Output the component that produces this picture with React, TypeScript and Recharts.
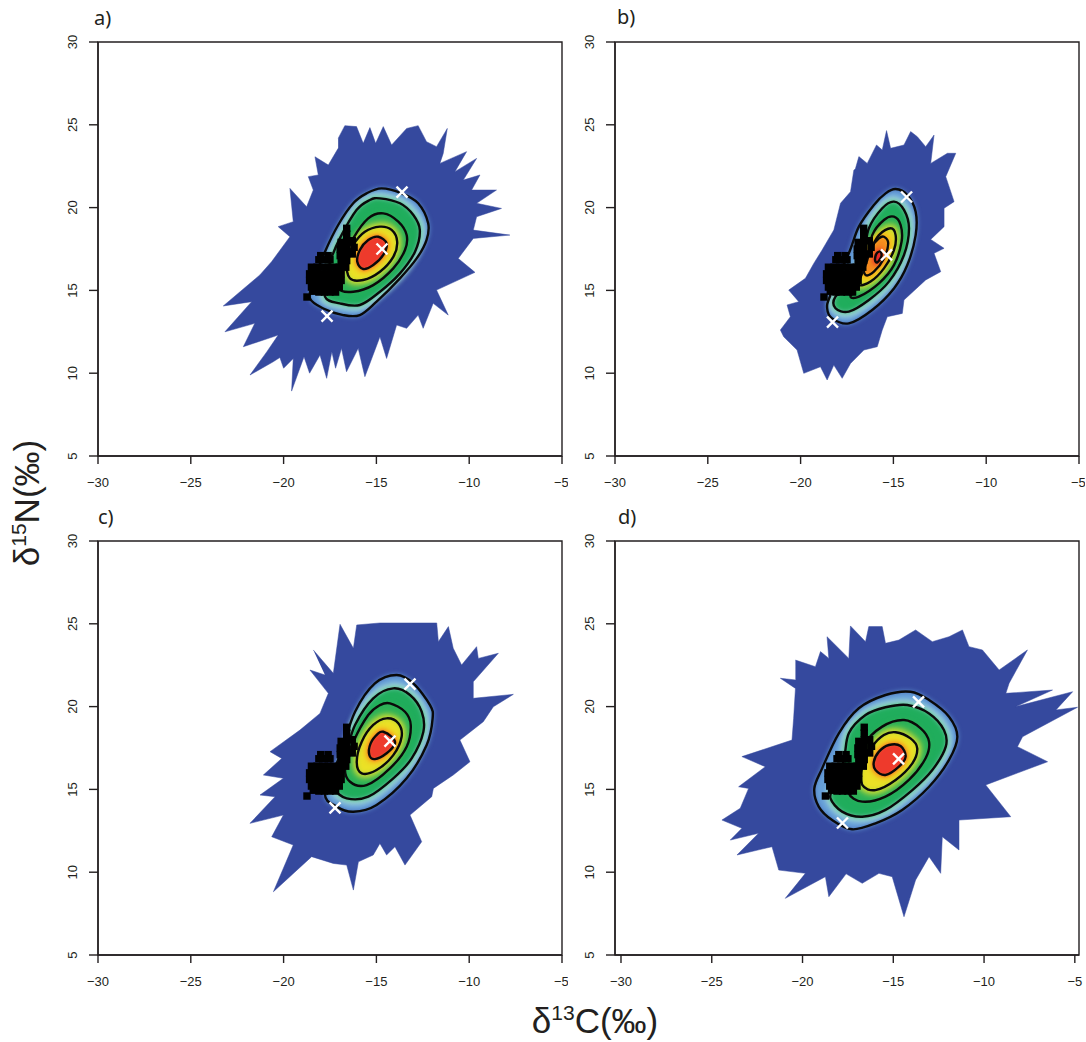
import { ScatterChart, Scatter, XAxis, YAxis, ReferenceArea } from "recharts";

type Pair = [number, number];

const X_TICKS = [-30, -25, -20, -15, -10, -5];
const Y_TICKS = [5, 10, 15, 20, 25, 30];

const BLUE = "#35499e";
const INK = "#231f20";
const FILLS_A = ["#669fd8", "#20ad5c", "#2fb257", "#ebe126", "#ee3a2c"];
const HALOS_A = ["", "#a6dcd8", "", "#9fd03f", "#f8a01c"];
const FILLS_B = ["#669fd8", "#20ad5c", "#2fb257", "#dfdd28", "#f58a1f", "#e8262a"];
const HALOS_B = ["", "#a6dcd8", "", "#9ccf3e", "#f9c31b", "#ee4b24"];

// 食物源 (same in every panel)
const sources: Pair[] = [
  [-18.74, 14.6],
  [-18.5, 16.4], [-18.2, 16.4], [-17.9, 16.4], [-17.6, 16.4], [-17.3, 16.4], [-17.0, 16.4],
  [-18.6, 16.0], [-18.3, 16.0], [-18.0, 16.0], [-17.7, 16.0], [-17.4, 16.0], [-17.1, 16.0], [-16.9, 16.0],
  [-18.6, 15.6], [-18.3, 15.6], [-18.0, 15.6], [-17.7, 15.6], [-17.4, 15.6], [-17.1, 15.6], [-16.9, 15.6],
  [-18.5, 15.2], [-18.2, 15.2], [-17.9, 15.2], [-17.6, 15.2], [-17.3, 15.2], [-17.0, 15.2],
  [-18.1, 16.85], [-17.8, 16.85], [-17.5, 16.85], [-18.0, 17.1], [-17.6, 17.1],
  [-18.4, 14.95], [-18.1, 14.9], [-17.8, 14.9], [-17.5, 14.9], [-17.2, 14.9],
  [-16.6, 18.75], [-16.6, 18.4], [-16.6, 18.0], [-16.6, 17.6], [-16.6, 17.2], [-16.6, 16.8], [-16.65, 16.4],
  [-16.3, 18.0], [-16.2, 17.6], [-16.3, 17.2], [-16.9, 17.9], [-16.95, 17.5], [-16.95, 17.1], [-16.9, 16.7],
];

const outlineA: Pair[] = [
  [-17.06, 24.18], [-16.7, 24.95], [-16.07, 24.89], [-15.71, 23.88], [-15.35, 24.83], [-15.04, 23.88], [-14.63, 24.89],
  [-14.18, 23.78], [-13.37, 24.78], [-12.75, 24.95], [-12.3, 23.98], [-11.76, 23.68], [-11.18, 24.78], [-11.4, 23.27],
  [-11.58, 22.67], [-10.14, 23.38], [-10.77, 22.17], [-9.6, 22.97], [-10.32, 21.66], [-9.42, 21.97], [-9.87, 21.06],
  [-8.53, 21.06], [-9.6, 20.26], [-8.26, 19.95], [-9.6, 19.45], [-9.78, 18.64], [-7.81, 18.34], [-9.78, 18.14],
  [-10.59, 16.93], [-9.69, 16.09], [-11.76, 15.02], [-11.13, 13.51], [-11.94, 14.22], [-12.48, 12.71], [-12.75, 13.51],
  [-13.37, 12.71], [-13.91, 12.91], [-14.45, 10.89], [-14.81, 12.2], [-15.62, 9.79], [-15.98, 11.5], [-16.61, 10.09],
  [-16.88, 11.5], [-17.2, 10.3], [-17.4, 11.3], [-17.68, 9.69], [-18.04, 11.1], [-18.6, 10.0], [-18.9, 11.0], [-19.57, 8.92],
  [-19.48, 10.89], [-20.0, 10.3], [-20.2, 10.95], [-20.56, 10.69], [-21.81, 9.89], [-20.9, 11.3], [-20.29, 12.3], [-22.17, 11.6],
  [-21.55, 13.01], [-23.16, 12.5], [-21.72, 14.32], [-23.25, 14.06], [-21.28, 15.93], [-20.65, 16.73], [-19.66, 18.24],
  [-20.29, 18.85], [-19.48, 19.15], [-19.66, 21.16], [-18.76, 20.05], [-18.4, 21.06], [-18.67, 21.87], [-18.13, 21.97],
  [-18.31, 23.07], [-17.59, 22.57], [-17.06, 23.58],
];
const contoursA: Pair[][] = [
  [[-14.72, 21.16], [-13.64, 20.86], [-12.75, 20.26], [-12.21, 19.05], [-12.3, 18.04], [-12.83, 16.93], [-13.73, 15.73], [-14.99, 14.32], [-15.89, 13.51], [-16.79, 13.51], [-17.86, 13.91], [-18.58, 14.52], [-18.4, 15.52], [-17.77, 17.34], [-17.06, 18.95], [-16.25, 20.26], [-15.53, 20.86]],
  [[-14.81, 20.56], [-13.73, 20.26], [-13.01, 19.55], [-12.66, 18.64], [-12.92, 17.34], [-13.73, 16.03], [-14.81, 14.92], [-15.89, 14.12], [-16.97, 14.22], [-17.77, 14.62], [-17.59, 16.13], [-17.5, 16.73], [-16.97, 18.14], [-16.07, 19.85], [-15.35, 20.46]],
  [[-14.63, 19.65], [-13.82, 19.15], [-13.37, 18.34], [-13.46, 17.44], [-14.09, 16.33], [-15.17, 15.32], [-16.25, 14.92], [-17.06, 15.12], [-16.88, 16.13], [-16.7, 16.93], [-16.25, 18.14], [-15.44, 19.35]],
  [[-14.81, 18.85], [-14.18, 18.65], [-13.88, 17.94], [-14.09, 17.03], [-14.81, 16.13], [-15.71, 15.63], [-16.43, 15.73], [-16.61, 16.73], [-16.25, 17.74], [-15.62, 18.54]],
  [[-14.9, 18.24], [-14.45, 17.84], [-14.63, 17.14], [-15.17, 16.53], [-15.71, 16.29], [-16.03, 16.73], [-15.89, 17.44], [-15.44, 18.04]],
];
const crossesA: Pair[] = [[-13.62, 20.94], [-14.7, 17.5], [-17.66, 13.45]];

const outlineB: Pair[] = [
  [-17.04, 22.37], [-16.86, 23.08], [-16.41, 22.67], [-15.91, 23.78], [-15.6, 23.48], [-15.37, 24.65], [-15.15, 23.58],
  [-14.43, 23.78], [-14.07, 24.59], [-13.71, 24.28], [-13.26, 23.68], [-12.81, 24.38], [-12.99, 22.67], [-12.09, 23.28],
  [-11.64, 23.28], [-12.18, 21.87], [-11.73, 20.36], [-12.27, 19.96], [-12.27, 18.85], [-12.99, 18.08], [-12.27, 17.54],
  [-12.81, 17.24], [-12.45, 16.13], [-13.26, 15.63], [-14.43, 14.42], [-14.52, 13.61], [-15.33, 13.41], [-15.6, 12.61],
  [-15.87, 11.6], [-16.59, 11.4], [-17.31, 10.59], [-17.76, 9.69], [-18.21, 10.49], [-18.57, 9.59], [-18.93, 10.39],
  [-19.83, 9.99], [-20.19, 11.4], [-20.91, 12.2], [-21.09, 12.61], [-20.55, 13.41], [-20.73, 14.12], [-20.1, 14.32],
  [-20.64, 15.02], [-19.74, 15.73], [-19.29, 16.63], [-18.84, 17.44], [-18.21, 18.65], [-17.85, 20.26], [-17.31, 20.96],
  [-17.13, 22.27],
];
const contoursB: Pair[][] = [
  [[-14.88, 21.12], [-14.25, 20.76], [-13.8, 19.75], [-13.8, 18.34], [-14.25, 16.53], [-14.97, 15.12], [-16.14, 13.82], [-17.4, 13.01], [-18.3, 13.31], [-18.57, 13.92], [-18.39, 14.72], [-17.4, 17.24], [-16.86, 18.85], [-16.05, 20.16], [-15.42, 20.86]],
  [[-14.97, 20.36], [-14.43, 19.86], [-14.16, 18.75], [-14.43, 17.14], [-15.24, 15.53], [-16.32, 14.42], [-17.4, 13.72], [-18.12, 13.92], [-18.12, 14.62], [-17.13, 15.63], [-16.59, 17.24], [-16.32, 18.75], [-15.6, 19.96]],
  [[-14.97, 19.45], [-14.61, 18.95], [-14.56, 17.94], [-14.97, 16.53], [-15.78, 15.43], [-16.86, 14.62], [-17.31, 14.62], [-17.04, 15.12], [-16.41, 16.83], [-16.14, 18.34], [-15.51, 19.25]],
  [[-15.15, 18.75], [-14.88, 18.34], [-14.97, 17.44], [-15.51, 16.33], [-16.23, 15.53], [-16.86, 15.33], [-16.77, 15.93], [-16.32, 17.24], [-15.78, 18.34]],
  [[-15.51, 18.24], [-15.28, 17.84], [-15.51, 16.93], [-16.05, 16.13], [-16.5, 15.93], [-16.59, 16.53], [-16.23, 17.54], [-15.78, 18.14]],
  [[-15.69, 17.34], [-15.65, 17.04], [-15.87, 16.69], [-15.99, 16.84], [-15.9, 17.24]],
];
const crossesB: Pair[] = [[-14.29, 20.64], [-15.37, 17.14], [-18.28, 13.09]];

const outlineC: Pair[] = [
  [-18.4, 23.42], [-17.32, 22.01], [-16.96, 24.97], [-16.24, 23.52], [-16.06, 24.93], [-14.81, 25.05], [-13.01, 25.05],
  [-11.75, 25.05], [-11.66, 23.92], [-11.12, 24.83], [-10.86, 23.52], [-10.41, 22.51], [-9.6, 23.62], [-9.51, 22.91],
  [-8.43, 23.22], [-9.78, 21.5], [-9.78, 20.5], [-7.62, 20.74], [-8.7, 19.99], [-9.24, 19.09], [-10.5, 17.98],
  [-9.96, 16.67], [-10.86, 15.87], [-11.93, 15.06], [-12.02, 14.56], [-13.19, 13.45], [-12.56, 11.84], [-13.46, 10.43],
  [-14.0, 11.54], [-14.45, 11.04], [-14.81, 11.74], [-15.17, 11.04], [-15.97, 10.63], [-16.24, 8.92], [-16.6, 10.43],
  [-17.32, 10.53], [-18.49, 10.94], [-20.55, 8.82], [-19.48, 11.64], [-20.64, 12.14], [-20.01, 13.45], [-21.81, 12.95],
  [-20.46, 14.56], [-21.27, 14.66], [-20.01, 15.67], [-21.09, 15.87], [-20.1, 16.87], [-20.73, 17.28], [-19.12, 18.58],
  [-18.04, 19.59], [-17.59, 20.8], [-18.58, 22.21], [-17.77, 21.91],
];
const contoursC: Pair[][] = [
  [[-13.91, 21.91], [-13.01, 21.4], [-12.11, 20.09], [-11.97, 19.29], [-12.29, 17.68], [-13.37, 15.67], [-14.99, 14.06], [-16.24, 13.65], [-17.14, 13.96], [-17.77, 14.76], [-16.96, 17.07], [-16.15, 19.69], [-15.08, 21.4]],
  [[-14.09, 21.1], [-13.19, 20.7], [-12.56, 19.69], [-12.47, 18.48], [-13.1, 16.87], [-14.09, 15.67], [-15.44, 14.56], [-16.6, 14.46], [-17.23, 15.06], [-16.96, 16.07], [-16.6, 17.28], [-16.15, 18.89], [-15.17, 20.5]],
  [[-14.27, 20.2], [-13.46, 19.69], [-13.15, 18.89], [-13.37, 17.58], [-14.27, 16.27], [-15.53, 15.26], [-16.42, 15.46], [-16.69, 16.37], [-16.24, 17.88], [-15.44, 19.49], [-14.81, 20.09]],
  [[-14.45, 19.29], [-13.82, 18.99], [-13.64, 18.18], [-14.09, 17.07], [-14.99, 16.17], [-15.79, 15.97], [-16.06, 16.67], [-15.79, 17.88], [-15.17, 18.89]],
  [[-14.63, 18.48], [-14.18, 18.18], [-14.0, 17.78], [-14.45, 17.18], [-15.08, 16.83], [-15.38, 17.08], [-15.31, 17.78], [-14.9, 18.38]],
];
const crossesC: Pair[] = [[-13.19, 21.36], [-14.27, 17.92], [-17.23, 13.88]];

const outlineD: Pair[] = [
  [-20.39, 22.81], [-19.29, 22.41], [-19.01, 23.32], [-18.55, 22.91], [-18.65, 24.22], [-17.45, 22.91], [-17.36, 24.87],
  [-16.53, 23.92], [-16.35, 24.83], [-15.61, 24.83], [-15.43, 23.82], [-14.69, 24.02], [-13.77, 24.63], [-12.85, 23.92],
  [-11.93, 24.22], [-11.19, 24.63], [-10.83, 23.62], [-10.09, 23.42], [-9.17, 22.21], [-7.61, 23.42], [-8.62, 21.41],
  [-8.8, 20.8], [-6.23, 21.0], [-8.25, 20.0], [-5.12, 20.9], [-6.04, 19.8], [-4.85, 19.96], [-7.88, 18.18], [-8.16, 17.58],
  [-6.5, 16.67], [-9.91, 15.27], [-8.53, 13.35], [-11.38, 13.15], [-11.38, 11.34], [-12.3, 12.14], [-12.39, 9.93],
  [-13.03, 10.94], [-13.77, 9.53], [-14.41, 7.31], [-15.06, 9.73], [-15.79, 9.93], [-16.71, 9.33], [-17.6, 9.9], [-18.55, 8.52],
  [-18.74, 9.73], [-20.95, 8.42], [-19.84, 9.93], [-21.31, 10.13], [-21.68, 11.54], [-23.61, 11.04], [-22.42, 12.35],
  [-23.98, 11.94], [-23.34, 12.65], [-24.44, 13.15], [-23.43, 13.86], [-22.97, 15.06], [-23.52, 15.16], [-22.05, 16.37],
  [-23.34, 16.98], [-20.58, 17.98], [-20.49, 19.29], [-20.39, 21.1], [-21.22, 21.71], [-20.39, 21.61],
];
const contoursD: Pair[][] = [
  [[-14.05, 20.9], [-13.03, 20.4], [-11.93, 19.39], [-11.47, 18.18], [-11.93, 16.78], [-13.03, 15.16], [-14.51, 13.76], [-15.98, 12.95], [-17.27, 12.59], [-18.37, 13.15], [-19.11, 13.96], [-19.35, 15.06], [-18.92, 16.27], [-18.0, 18.39], [-16.9, 19.9], [-15.43, 20.7]],
  [[-14.23, 20.1], [-13.03, 19.59], [-12.21, 18.59], [-12.11, 17.58], [-12.85, 16.17], [-13.95, 14.96], [-15.43, 13.76], [-16.71, 13.35], [-17.82, 13.66], [-18.46, 14.46], [-18.28, 15.16], [-17.73, 16.78], [-17.45, 18.39], [-16.53, 19.49], [-15.43, 19.96]],
  [[-14.41, 19.19], [-13.49, 18.69], [-13.03, 17.88], [-13.22, 16.88], [-14.14, 15.57], [-15.43, 14.56], [-16.71, 14.26], [-17.45, 14.76], [-17.08, 15.57], [-16.9, 16.37], [-16.62, 17.68], [-15.61, 18.79]],
  [[-14.87, 18.45], [-14.05, 18.08], [-13.68, 17.48], [-13.95, 16.57], [-14.87, 15.57], [-15.98, 14.96], [-16.71, 15.27], [-16.71, 16.37], [-16.16, 17.58], [-15.52, 18.28]],
  [[-15.24, 17.68], [-14.6, 17.62], [-14.32, 16.98], [-14.69, 16.37], [-15.43, 15.87], [-15.98, 16.17], [-16.07, 16.67], [-15.79, 17.28]],
];
const crossesD: Pair[] = [[-13.61, 20.28], [-14.71, 16.84], [-17.8, 12.97]];

const toPoints = (pairs: Pair[]) => pairs.map(([x, y]) => ({ x, y }));
const noMark = () => <g />;

// closed curve that goes through its points (recharts takes a d3 style curve factory)
function smoothClosed(ctx: any) {
  let pts: Pair[] = [];
  return {
    areaStart() {},
    areaEnd() {},
    lineStart() {
      pts = [];
    },
    point(x: number, y: number) {
      pts.push([x, y]);
    },
    lineEnd() {
      const n = pts.length;
      if (!n) return;
      ctx.moveTo(pts[0][0], pts[0][1]);
      for (let i = 0; i < n; i++) {
        const p0 = pts[(i + n - 1) % n];
        const p1 = pts[i];
        const p2 = pts[(i + 1) % n];
        const p3 = pts[(i + 2) % n];
        ctx.bezierCurveTo(
          p1[0] + (p2[0] - p0[0]) / 6,
          p1[1] + (p2[1] - p0[1]) / 6,
          p2[0] - (p3[0] - p1[0]) / 6,
          p2[1] - (p3[1] - p1[1]) / 6,
          p2[0],
          p2[1],
        );
      }
      ctx.closePath();
    },
  };
}

function SquareMark({ cx, cy }: { cx?: number; cy?: number }) {
  return <rect x={(cx ?? 0) - 3.7} y={(cy ?? 0) - 3.7} width={7.4} height={7.4} fill="#000" />;
}

function CrossMark({ cx, cy }: { cx?: number; cy?: number }) {
  const x = cx ?? 0;
  const y = cy ?? 0;
  return (
    <g stroke="#fff" strokeWidth={2.4}>
      <line x1={x - 5.5} y1={y - 5.5} x2={x + 5.5} y2={y + 5.5} />
      <line x1={x - 5.5} y1={y + 5.5} x2={x + 5.5} y2={y - 5.5} />
    </g>
  );
}

function XTick({ x, y, payload }: any) {
  return (
    <text x={x} y={y + 21} textAnchor="middle" fontSize={13} fontFamily="Liberation Sans" fill={INK}>
      {String(payload.value).replace("-", "\u2212")}
    </text>
  );
}

function YTick({ x, y, payload }: any) {
  const tx = x - 10;
  return (
    <text x={tx} y={y} textAnchor="middle" fontSize={13} fontFamily="Liberation Sans" fill={INK} transform={`rotate(-90 ${tx} ${y})`}>
      {payload.value}
    </text>
  );
}

interface PanelProps {
  left: number;
  top: number;
  xDomain: [number, number];
  outline: Pair[];
  contours: Pair[][];
  crosses: Pair[];
  fills: string[];
  halos: string[];
}

function Panel({ left, top, xDomain, outline, contours, crosses, fills, halos }: PanelProps) {
  const last = contours.length - 1;
  return (
    <div style={{ position: "absolute", left, top }}>
      <ScatterChart width={520} height={484} margin={{ top: 20, right: 6, bottom: 0, left: 0 }}>
        <XAxis
          type="number"
          dataKey="x"
          domain={xDomain}
          ticks={X_TICKS}
          allowDataOverflow
          height={50}
          tickSize={8}
          tick={<XTick />}
          stroke={INK}
          strokeWidth={1.4}
        />
        <YAxis
          type="number"
          dataKey="y"
          domain={[5, 30]}
          ticks={Y_TICKS}
          allowDataOverflow
          width={50}
          tickSize={9}
          tick={<YTick />}
          stroke={INK}
          strokeWidth={1.4}
        />
        <Scatter data={toPoints(outline)} shape={noMark} isAnimationActive={false} line={{ fill: BLUE, stroke: BLUE, strokeWidth: 0.5 }} />
        {contours.flatMap((c, i) => [
          halos[i] ? (
            <Scatter
              key={`halo-${i}`}
              data={toPoints(c)}
              shape={noMark}
              isAnimationActive={false}
              lineJointType={smoothClosed as any}
              line={{ fill: "none", stroke: halos[i], strokeWidth: i === last ? 7 : 10, style: { filter: "blur(2.5px)" } }}
            />
          ) : null,
          <Scatter
            key={`fill-${i}`}
            data={toPoints(c)}
            shape={noMark}
            isAnimationActive={false}
            lineJointType={smoothClosed as any}
            line={{ fill: fills[i], stroke: fills[i], strokeWidth: 1, style: { filter: `blur(${i === last ? 1.5 : 2.6}px)` } }}
          />,
        ])}
        {contours.map((c, i) => (
          <Scatter
            key={`line-${i}`}
            data={toPoints(c)}
            shape={noMark}
            isAnimationActive={false}
            lineJointType={smoothClosed as any}
            line={{ fill: "none", stroke: "#0a0a0a", strokeWidth: 2.4 }}
          />
        ))}
        <Scatter data={toPoints(sources)} shape={<SquareMark />} isAnimationActive={false} />
        <Scatter data={toPoints(crosses)} shape={<CrossMark />} isAnimationActive={false} />
        <ReferenceArea x1={xDomain[0]} x2={xDomain[1]} y1={5} y2={30} fill="none" stroke={INK} strokeWidth={1.4} />
      </ScatterChart>
    </div>
  );
}

const panelLabel = (text: string, left: number, top: number) => (
  <div style={{ position: "absolute", left, top, fontFamily: "Noto Sans", fontSize: 20, lineHeight: "24px", color: INK }}>{text}</div>
);

const supStyle = { fontSize: 21, verticalAlign: "13px", lineHeight: 0 };

export default function App() {
  return (
    <div style={{ position: "absolute", left: 0, top: 0, width: 1086, height: 1042, background: "#fff", overflow: "hidden" }}>
      <Panel left={48} top={22} xDomain={[-30, -5]} outline={outlineA} contours={contoursA} crosses={crossesA} fills={FILLS_A} halos={HALOS_A} />
      <Panel left={565} top={22} xDomain={[-30, -5]} outline={outlineB} contours={contoursB} crosses={crossesB} fills={FILLS_B} halos={HALOS_B} />
      <Panel left={48} top={521} xDomain={[-30, -5]} outline={outlineC} contours={contoursC} crosses={crossesC} fills={FILLS_A} halos={HALOS_A} />
      <Panel left={565} top={521} xDomain={[-30.33, -4.77]} outline={outlineD} contours={contoursD} crosses={crossesD} fills={FILLS_A} halos={HALOS_A} />
      {panelLabel("a)", 94, 6)}
      {panelLabel("b)", 617, 5)}
      {panelLabel("c)", 98, 505)}
      {panelLabel("d)", 618, 505)}
      <div style={{ position: "absolute", left: 495, top: 1000, width: 200, textAlign: "center", fontFamily: "Liberation Sans", fontSize: 35, lineHeight: "42px", color: INK }}>
        δ<span style={supStyle}>13</span>C(‰)
      </div>
      <div
        style={{
          position: "absolute",
          left: -73,
          top: 482,
          width: 200,
          textAlign: "center",
          fontFamily: "Liberation Sans",
          fontSize: 35,
          lineHeight: "42px",
          color: INK,
          transform: "rotate(-90deg)",
        }}
      >
        δ<span style={supStyle}>15</span>N(‰)
      </div>
    </div>
  );
}
